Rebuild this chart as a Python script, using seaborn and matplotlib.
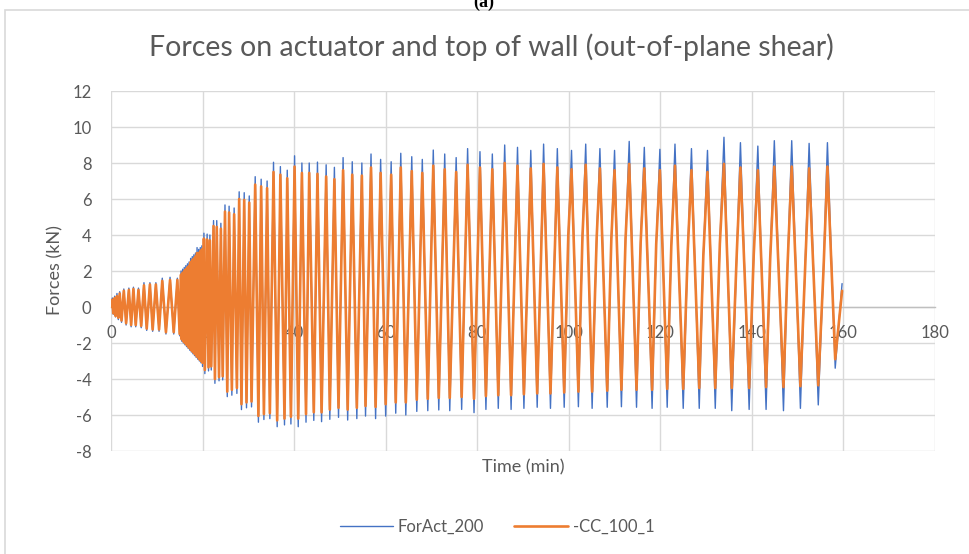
import numpy as np
import pandas as pd
import matplotlib
matplotlib.use("Agg")
import matplotlib.pyplot as plt
import seaborn as sns
from matplotlib.patches import Rectangle
from matplotlib.lines import Line2D

# ---------------- data ----------------
start_t = [0.0]
start_v = [0.0]

peak_t = [0.3, 0.8, 1.3, 1.9, 2.8, 3.9, 4.9, 6.0, 7.2, 8.5, 9.8, 11.2, 12.9, 14.5,
          15.3, 15.65, 16.0, 16.35, 16.7, 17.05, 17.4, 17.75, 18.1, 18.45, 18.8, 19.15, 19.5, 19.85,
          20.3, 21.0, 21.6, 22.4, 23.1, 24.0, 24.9, 25.8, 26.9, 28.0, 29.1, 30.2,
          31.5, 32.8, 34.1, 35.5, 37.0, 38.5, 40.1, 41.7, 43.3, 45.1, 47.0, 48.8,
          50.7, 52.7, 54.8, 56.8, 58.9, 61.2, 63.3, 65.7, 68.0, 70.4, 72.9, 75.4,
          77.9, 80.6, 83.3, 86.0, 88.8, 91.7, 94.5, 97.5, 100.6, 103.7, 106.8, 110.0,
          113.2, 116.5, 119.9, 123.2, 126.8, 130.3, 133.9, 137.5, 141.3, 144.9, 148.7,
          152.5, 156.5]
peak_blue = [0.5, 0.6, 0.75, 0.85, 1.0, 1.05, 1.1, 1.05, 1.35, 1.35, 1.35, 1.6, 1.65, 1.6,
             2.0, 2.1, 2.2, 2.3, 2.4, 2.5, 2.7, 2.8, 2.9, 3.0, 3.3, 3.2, 3.3, 3.4,
             4.1, 4.05, 4.0, 4.8, 4.8, 4.65, 5.67, 5.6, 5.5, 6.4, 6.35, 6.17,
             7.24, 7.1, 7.0, 8.04, 7.8, 7.6, 8.4, 8.0, 8.0, 8.05, 7.9, 7.76,
             8.3, 8.07, 8.0, 8.5, 8.2, 8.07, 8.54, 8.35, 8.2, 8.72, 8.5, 8.3,
             8.8, 8.63, 8.5, 9.0, 8.87, 8.7, 9.05, 8.8, 8.7, 9.05, 8.8, 8.7,
             9.2, 8.87, 8.76, 9.05, 8.8, 8.7, 9.43, 9.13, 8.94, 9.24, 9.24,
             9.09, 9.13]
peak_orange = [0.4, 0.5, 0.6, 0.75, 0.9, 0.95, 1.0, 0.95, 1.2, 1.25, 1.25, 1.45, 1.5, 1.5,
               1.8, 1.9, 2.0, 2.1, 2.2, 2.3, 2.5, 2.6, 2.7, 2.8, 3.0, 3.0, 3.1, 3.2,
               3.8, 3.75, 3.7, 4.5, 4.45, 4.35, 5.3, 5.25, 5.15, 6.0, 5.95, 5.8,
               6.8, 6.7, 6.6, 7.5, 7.35, 7.15, 7.8, 7.45, 7.45, 7.4, 7.25, 7.1,
               7.6, 7.35, 7.3, 7.75, 7.45, 7.35, 7.75, 7.55, 7.45, 7.85, 7.65, 7.5,
               7.9, 7.75, 7.65, 8.0, 7.85, 7.7, 7.95, 7.75, 7.65, 7.9, 7.7, 7.6,
               7.95, 7.7, 7.6, 7.85, 7.6, 7.5, 7.95, 7.75, 7.6, 7.8, 7.8,
               7.7, 7.8]

trough_t = [0.5, 1.0, 1.6, 2.3, 3.3, 4.4, 5.4, 6.6, 7.8, 9.1, 10.5, 12.0, 13.7, 15.0,
            15.45, 15.8, 16.15, 16.5, 16.85, 17.2, 17.55, 17.9, 18.25, 18.6, 18.95, 19.3, 19.65, 20.0,
            20.5, 21.3, 21.9, 22.7, 23.6, 24.4, 25.4, 26.4, 27.5, 28.5, 29.6, 30.7,
            32.2, 33.4, 34.7, 36.3, 37.9, 39.3, 40.9, 42.6, 44.3, 46.0, 47.8, 49.7,
            51.7, 53.7, 55.6, 57.8, 60.0, 62.2, 64.4, 66.8, 69.2, 71.6, 74.0, 76.6,
            79.3, 81.9, 84.6, 87.4, 90.2, 93.1, 96.0, 99.0, 102.1, 105.1, 108.4, 111.5,
            114.8, 118.2, 121.5, 125.0, 128.5, 132.0, 135.6, 139.4, 143.1, 146.9, 150.6,
            154.5, 158.2]
trough_blue = [-0.4, -0.55, -0.7, -0.85, -1.0, -1.1, -1.1, -1.15, -1.3, -1.35, -1.35, -1.5, -1.5, -1.6,
               -1.9, -2.0, -2.1, -2.2, -2.3, -2.4, -2.5, -2.6, -2.7, -2.8, -2.9, -3.0, -3.1, -3.3,
               -3.7, -3.55, -3.5, -4.24, -4.1, -4.05, -4.98, -4.9, -4.8, -5.7, -5.6, -5.55,
               -6.4, -6.25, -6.2, -6.65, -6.55, -6.5, -6.65, -6.4, -6.3, -6.37, -6.24, -6.13,
               -6.28, -6.2, -6.06, -6.2, -6.06, -5.9, -6.0, -5.8, -5.76, -5.72, -5.76, -5.69,
               -5.87, -5.69, -5.63, -5.69, -5.63, -5.57, -5.63, -5.57, -5.54, -5.63, -5.57, -5.54,
               -5.57, -5.63, -5.57, -5.63, -5.63, -5.63, -5.76, -5.69, -5.69, -5.76, -5.63,
               -5.44, -3.4]
trough_orange = [-0.35, -0.5, -0.6, -0.75, -0.9, -1.0, -1.0, -1.05, -1.2, -1.25, -1.25, -1.4, -1.4, -1.5,
                 -1.8, -1.9, -2.0, -2.1, -2.2, -2.3, -2.4, -2.5, -2.6, -2.7, -2.8, -2.9, -3.0, -3.1,
                 -3.5, -3.35, -3.3, -4.0, -3.9, -3.85, -4.7, -4.6, -4.5, -5.4, -5.3, -5.25,
                 -6.05, -5.95, -5.9, -6.3, -6.2, -6.1, -6.2, -5.95, -5.85, -5.85, -5.7, -5.6,
                 -5.7, -5.6, -5.5, -5.55, -5.4, -5.3, -5.3, -5.15, -5.1, -5.05, -5.05, -5.0,
                 -5.1, -4.95, -4.9, -4.9, -4.85, -4.8, -4.8, -4.75, -4.7, -4.7, -4.65, -4.6,
                 -4.6, -4.6, -4.55, -4.55, -4.5, -4.5, -4.5, -4.5, -4.45, -4.45, -4.4,
                 -4.35, -2.9]

shoulder_t = [99.9, 103.0, 106.1, 109.3, 112.4, 115.7, 119.1, 122.4, 126.0, 129.4,
              133.0, 136.7, 140.4, 144.0, 147.8, 151.6, 155.6]
shoulder_v = [4.0, 4.0, 3.9, 3.8, 3.8, 3.6, 3.5, 3.4, 3.2, 2.9,
              3.5, 3.0, 2.9, 2.7, 2.4, 2.05, 1.8]

end_t = [159.7]
end_blue = [1.3]
end_orange = [0.9]

series_names = ["ForAct_200", "-CC_100_1"]
x_ticks = list(range(0, 181, 20))
y_ticks = list(range(-8, 13, 2))


def build(name, pv, tv, ev):
    t = start_t + peak_t + trough_t + shoulder_t + end_t
    v = start_v + pv + tv + shoulder_v + ev
    df = pd.DataFrame({"t": t, "v": v}).sort_values("t", kind="stable")
    df["series"] = name
    return df


df_blue = build(series_names[0], peak_blue, trough_blue, end_blue)
df_orange = build(series_names[1], peak_orange, trough_orange, end_orange)

# ---------------- style ----------------
sns.set_style("white")
plt.rcParams['font.family'] = ['Lato', 'DejaVu Sans']
plt.rcParams['axes.unicode_minus'] = False

BLUE = "#4472C4"
ORANGE = "#ED7D31"
TXT = "#595959"
GRID = "#d9d9d9"

fig = plt.figure(figsize=(9.7, 5.54), dpi=100)
W, H = 970.0, 554.0
ax = fig.add_axes([111 / W, 1 - 451 / H, (935 - 111) / W, (451 - 91) / H])

sns.lineplot(data=df_blue, x="t", y="v", color=BLUE, lw=1.0, sort=False,
             estimator=None, ax=ax, legend=False, zorder=3)
sns.lineplot(data=df_orange, x="t", y="v", color=ORANGE, lw=1.9, sort=False,
             estimator=None, ax=ax, legend=False, zorder=4)

ax.set_xlim(0, 180)
ax.set_ylim(-8, 12)
ax.set_xticks(x_ticks)
ax.set_yticks(y_ticks)
ax.grid(True, color=GRID, lw=1.0, zorder=0)
ax.set_axisbelow(True)
for s in ["top", "right", "left"]:
    ax.spines[s].set_visible(False)
ax.spines["bottom"].set_position(("data", 0))
ax.spines["bottom"].set_color("#bfbfbf")
ax.spines["bottom"].set_linewidth(1.0)
ax.spines["bottom"].set_zorder(2)
ax.tick_params(length=0, labelsize=12, colors=TXT)
ax.tick_params(axis="x", pad=13)
ax.tick_params(axis="y", pad=14)
ax.set_xlabel("")
ax.set_ylabel("")

# texts
fig.text(491 / W, 1 - 47 / H, "Forces on actuator and top of wall (out-of-plane shear)",
         ha="center", va="center", fontsize=20.5, color=TXT)
fig.text(55 / W, 1 - 270 / H, "Forces (kN)", rotation=90, ha="center", va="center",
         fontsize=13, color=TXT)
fig.text(523 / W, 1 - 467 / H, "Time (min)", ha="center", va="center",
         fontsize=13, color=TXT)
fig.text(484 / W, 1 - 2 / H, "(a)", ha="center", va="center", fontsize=13,
         family=["Liberation Serif"], weight="bold", color="black")

# chart border
fig.patches.append(Rectangle((5 / W, -0.01), 1.0, 1 - 10 / H + 0.01, transform=fig.transFigure,
                             fill=False, edgecolor=GRID, lw=1.2))

handles = [Line2D([], [], color=BLUE, lw=1.0), Line2D([], [], color=ORANGE, lw=1.9)]
fig.legend(handles, series_names, loc="center", bbox_to_anchor=(497 / W, 1 - 527 / H),
           ncol=2, frameon=False, fontsize=12, labelcolor=TXT, handlelength=3.2,
           handletextpad=0.3, columnspacing=1.8)

fig.savefig("out.png", dpi=100)
